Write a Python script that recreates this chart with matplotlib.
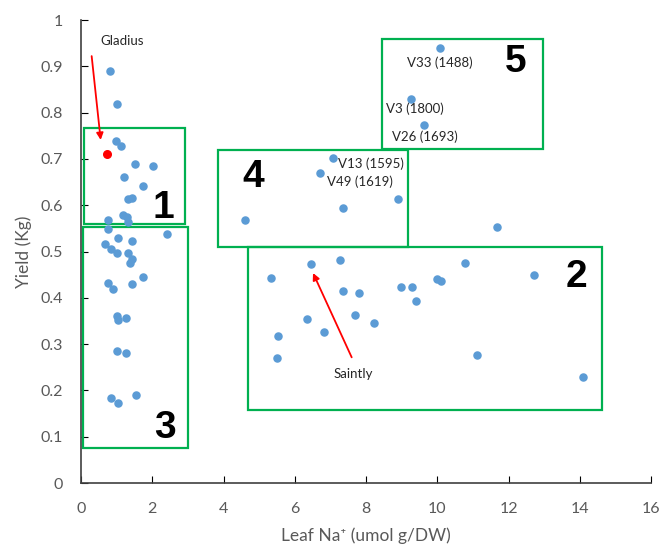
import matplotlib.pyplot as plt
from matplotlib.patches import Rectangle

plt.rcParams['font.family'] = ['Lato', 'DejaVu Sans']

# leaf Na+ vs yield
na = [0.81, 1.0, 0.97, 1.12, 1.52, 2.02, 1.22, 1.75, 1.33, 1.42, 1.19, 1.28,
      0.77, 1.33, 0.77, 2.41, 1.05, 1.44, 0.66, 0.84, 1.0, 1.31, 1.44, 1.38,
      1.75, 0.75, 0.91, 1.42, 1.0, 1.03, 1.26, 1.02, 1.26, 0.83, 1.05, 1.53,
      4.59, 7.07, 6.71, 8.89, 7.34,
      5.33, 6.46, 7.28, 7.35, 7.81, 8.98, 9.30, 9.41, 9.99, 10.10, 10.78,
      12.72, 6.34, 7.69, 8.21, 6.83, 5.52, 5.49, 11.12, 14.08, 11.69,
      10.09, 9.27, 9.64]
yld = [0.889, 0.818, 0.739, 0.728, 0.688, 0.685, 0.661, 0.641, 0.614, 0.616,
       0.579, 0.575, 0.568, 0.564, 0.548, 0.538, 0.530, 0.523, 0.516, 0.505,
       0.496, 0.496, 0.483, 0.476, 0.446, 0.433, 0.420, 0.429, 0.361, 0.351,
       0.357, 0.285, 0.281, 0.183, 0.173, 0.191,
       0.568, 0.703, 0.669, 0.613, 0.593,
       0.442, 0.472, 0.481, 0.414, 0.410, 0.424, 0.423, 0.393, 0.441, 0.437,
       0.475, 0.449, 0.355, 0.362, 0.345, 0.327, 0.318, 0.270, 0.276, 0.229,
       0.553, 0.940, 0.829, 0.773]
gladius = (0.73, 0.710)

# groups: (x0, x1, y0, y1, label, label x, label y)
boxes = [
    (0.09, 2.92, 0.559, 0.766, '1', 2.30, 0.594),
    (4.70, 14.63, 0.158, 0.509, '2', 13.9, 0.445),
    (0.06, 3.01, 0.075, 0.552, '3', 2.36, 0.119),
    (3.84, 9.17, 0.509, 0.719, '4', 4.83, 0.661),
    (8.46, 12.96, 0.721, 0.959, '5', 12.2, 0.909),
]

# variety labels
names = ['V33 (1488)', 'V3 (1800)', 'V26 (1693)', 'V13 (1595)', 'V49 (1619)']
name_x = [10.08, 9.38, 9.66, 8.15, 7.84]
name_y = [0.908, 0.808, 0.747, 0.690, 0.651]

fig = plt.figure(figsize=(6.62, 5.51), dpi=100)
ax = fig.add_axes([0.1224, 0.1234, 0.861, 0.8403])

ax.scatter(na, yld, s=26, color='#5B9BD5', zorder=3)
ax.scatter([gladius[0]], [gladius[1]], s=30, color='#FF0000', zorder=3)

for x0, x1, y0, y1, lab, lx, ly in boxes:
    ax.add_patch(Rectangle((x0, y0), x1 - x0, y1 - y0, fill=False,
                           edgecolor='#00B050', linewidth=1.6, zorder=2))
    ax.text(lx, ly, lab, fontsize=28, fontweight='bold', ha='center',
            va='center', family=['Liberation Sans'], zorder=4)

for n, x, y in zip(names, name_x, name_y):
    ax.text(x, y, n, fontsize=9.5, ha='center', va='center', color='#262626',
            zorder=4)

ax.annotate('', xy=(0.56, 0.735), xytext=(0.29, 0.928),
            arrowprops=dict(arrowstyle='-|>', color='red', lw=1.3,
                            mutation_scale=10))
ax.text(1.15, 0.955, 'Gladius', fontsize=9.5, ha='center', va='center',
        color='#262626')
ax.annotate('', xy=(6.48, 0.459), xytext=(7.63, 0.266),
            arrowprops=dict(arrowstyle='-|>', color='red', lw=1.3,
                            mutation_scale=10))
ax.text(7.64, 0.235, 'Saintly', fontsize=9.5, ha='center', va='center',
        color='#262626')

ax.set_xlim(0, 16)
ax.set_ylim(0, 1)
ax.set_xticks(range(0, 17, 2))
ax.set_yticks([i / 10 for i in range(11)])
ax.set_yticklabels(['0', '0.1', '0.2', '0.3', '0.4', '0.5', '0.6', '0.7',
                    '0.8', '0.9', '1'])
ax.tick_params(direction='in', length=5, labelsize=11.5, labelcolor='#595959')
ax.tick_params(axis='x', pad=14)
ax.tick_params(axis='y', pad=13)
for s in ['top', 'right']:
    ax.spines[s].set_visible(False)
for s in ['left', 'bottom']:
    ax.spines[s].set_color('#404040')
    ax.spines[s].set_linewidth(1.2)

ax.set_xlabel('Leaf Na⁺ (umol g/DW)', fontsize=12.5, color='#595959',
              labelpad=8)
ax.set_ylabel('Yield (Kg)', fontsize=12.5, color='#595959', labelpad=6)

fig.savefig('out.png', dpi=100)
